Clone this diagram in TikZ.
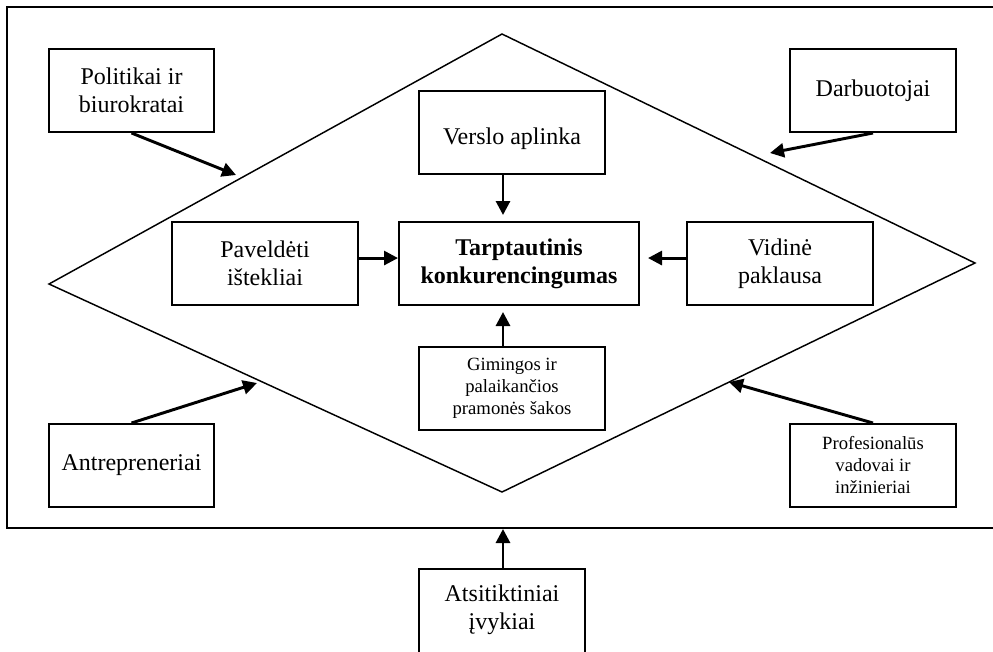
\documentclass[tikz,border=0pt]{standalone}
\usepackage{fontspec}
\setmainfont{Liberation Serif}
\usetikzlibrary{arrows.meta,calc}
\begin{document}
\begin{tikzpicture}[x=0.75pt,y=-0.75pt,
  box/.style={draw,line width=1.5pt,align=center,inner sep=0pt,
    font=\fontsize{18}{21}\selectfont},
  smallbox/.style={box,font=\fontsize{14}{16.5}\selectfont},
  arr/.style={line width=2.2pt,-{Triangle[length=10.5pt,width=10.5pt]}},
  edge/.style={line width=1.1pt,line join=miter}]
\useasboundingbox (0,0) rectangle (993,651);
\clip (0,0) rectangle (993,651);
% outer frame
\draw[line width=1.5pt] (7,7) rectangle (1005,528);
% diamond
\coordinate (dL) at (49,284);
\coordinate (dT) at (502,34);
\coordinate (dR) at (975,263);
\coordinate (dB) at (502,492);
\draw[edge] (dL) -- (dT) -- (dR) -- (dB) -- cycle;
% boxes
\node[box,minimum width=165*0.75pt,minimum height=83*0.75pt] (pol) at (131.5,90.5) {Politikai ir\\biurokratai};
\node[box,minimum width=166*0.75pt,minimum height=83*0.75pt] (dar) at (873,90.5) {Darbuotojai};
\node[box,minimum width=186*0.75pt,minimum height=83*0.75pt,text depth=0pt] (ver) at (512,132.5) {\raisebox{-6pt}{Verslo aplinka}};
\node[box,minimum width=186*0.75pt,minimum height=83*0.75pt] (pav) at (265,263.5) {Paveldėti\\ištekliai};
\node[box,minimum width=240*0.75pt,minimum height=83*0.75pt,font=\fontsize{18}{21}\selectfont\bfseries] (tar) at (519,263.5) {Tarptautinis\\konkurencingumas};
\node[box,minimum width=186*0.75pt,minimum height=83*0.75pt] (vid) at (780,263.5) {Vidinė\\paklausa};
\node[smallbox,minimum width=186*0.75pt,minimum height=83*0.75pt] (gim) at (512,388.5) {Gimingos ir\\palaikančios\\pramonės šakos};
\node[box,minimum width=165*0.75pt,minimum height=83*0.75pt] (ant) at (131.5,465.5) {Antrepreneriai};
\node[smallbox,minimum width=166*0.75pt,minimum height=83*0.75pt] (pro) at (873,465.5) {Profesionalūs\\vadovai ir\\inžinieriai};
\node[box,minimum width=166*0.75pt,minimum height=100*0.75pt] (ats) at (502,619) {};
\node[font=\fontsize{18}{21}\selectfont,align=center,inner sep=0pt] (atst) at (502,610) {Atsitiktiniai\\įvykiai};
% diagonal arrow ends
\coordinate (pE) at (236,175);
\coordinate (dE) at (770,153);
\coordinate (aE) at (257,383);
\coordinate (prE) at (729,382);
\coordinate (fB) at (503,529);
\draw[arr] (pol.south) -- (pE);
\draw[arr] (dar.south) -- (dE);
\draw[arr] (ant.north) -- (aE);
\draw[arr] (pro.north) -- (prE);
% inner arrows
\draw[arr,shorten >=4.5pt] (ver.south -| fB) -- (tar.north -| fB);
\draw[arr,shorten >=4.5pt] (gim.north -| fB) -- (tar.south -| fB);
\draw[arr] ([yshift=4.1pt]pav.east) -- ([yshift=4.1pt]tar.west);
\draw[arr,shorten >=6pt] ([yshift=4.1pt]vid.west) -- ([yshift=4.1pt]tar.east);
\draw[arr] (ats.north -| fB) -- (fB);
\end{tikzpicture}
\end{document}
